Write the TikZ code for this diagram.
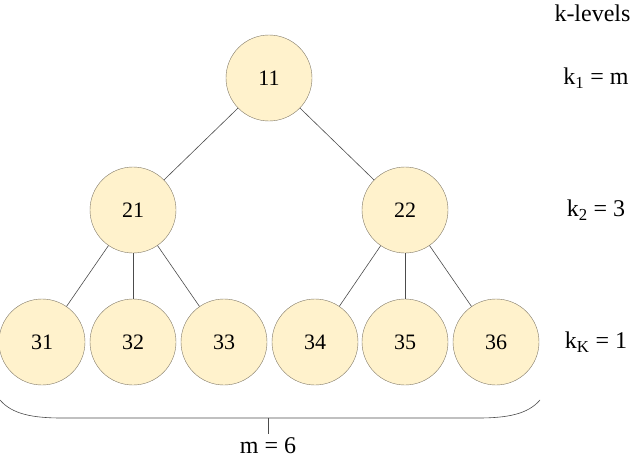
\documentclass[tikz,border=0pt]{standalone}
\usepackage{fontspec}
\setmainfont{Liberation Serif}
\definecolor{nodefill}{HTML}{FFF2CC}
\definecolor{nodeline}{HTML}{7F7766}
\tikzset{
  knode/.style={circle,draw=nodeline,fill=nodefill,minimum size=86pt,inner sep=0pt,font=\fontsize{22}{26}\selectfont},
  klabel/.style={font=\fontsize{24}{28}\selectfont},
  kedge/.style={draw=black!70,line width=0.6pt}
}
\begin{document}
\begin{tikzpicture}[x=1pt,y=-1pt]
  \useasboundingbox (0,0) rectangle (634,460);
  \node[knode] (n11) at (269,78) {11};
  \node[knode] (n21) at (133,210) {21};
  \node[knode] (n22) at (405,210) {22};
  \foreach \i/\x in {1/42,2/133,3/224,4/315,5/405,6/496}{
    \node[knode] (n3\i) at (\x,342) {3\i};}
  \draw[kedge] (n11) -- (n21);
  \draw[kedge] (n11) -- (n22);
  \foreach \i in {1,2,3}{\draw[kedge] (n21) -- (n3\i);}
  \foreach \i in {4,5,6}{\draw[kedge] (n22) -- (n3\i);}
  % levels
  \node[klabel,anchor=east] (lev) at (634,13) {k-levels};
  \node[klabel] (k1) at (596,78) {k\textsubscript{1} = m};
  \node[klabel] (k2) at (596,210) {k\textsubscript{2} = 3};
  \node[klabel] (kK) at (596,342) {k\textsubscript{K} = 1};
  % brace under the leaves
  \draw[kedge] (0,400) .. controls (12,414) and (32,418) .. (62,418) -- (478,418)
    .. controls (508,418) and (528,414) .. (540,400);
  \coordinate (mid) at (268,418);
  \node[klabel] (m) at (268,446) {m = 6};
  \draw[kedge] (mid) -- (268,434);
\end{tikzpicture}
\end{document}
